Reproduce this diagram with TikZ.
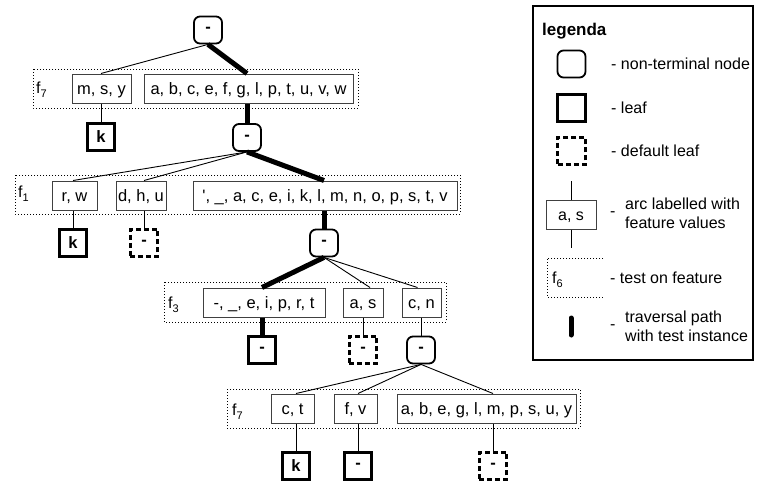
\documentclass[tikz,border=0pt]{standalone}
\usepackage{fontspec}
\setmainfont{Liberation Sans}
\newcommand{\fsub}[1]{f{\fontsize{11}{11}\selectfont\raisebox{-4pt}{#1}}}
\tikzset{
  txt/.style={font=\fontsize{16}{19}\selectfont, inner sep=0pt},
  inner/.style={draw, rounded corners=6pt, line width=1.8pt, minimum width=28pt,
    minimum height=27pt, inner sep=0pt, font=\fontsize{16.5}{19}\selectfont\bfseries},
  leaf/.style={draw, line width=2.8pt, minimum size=27.5pt, inner sep=0pt,
    font=\fontsize{16.5}{19}\selectfont\bfseries},
  dleaf/.style={leaf, dash pattern=on 5pt off 3pt},
  vals/.style={draw=black!75, line width=1pt, minimum height=29pt, inner sep=0pt,
    text height=12pt, text depth=0pt, font=\fontsize{16.5}{19}\selectfont},
  test/.style={draw, dotted, line width=1pt},
  arc/.style={line width=0.9pt},
  trail/.style={line width=5pt},
}
\begin{document}
\begin{tikzpicture}[x=1pt, y=-1pt]
\useasboundingbox (0,0) rectangle (757,483);

% ---- level 1: test on f7
\draw[test] (33,69) rectangle (358,108);
\node[txt, anchor=west] (t1) at (36,90) {\fsub{7}};
\node[inner] (root) at (208,30) {-};
\node[vals, minimum width=59pt] (msy) at (101.5,88.5) {m, s, y};
\node[vals, minimum width=209pt] (v1) at (248.5,88.5) {a, b, c, e, f, g, l, p, t, u, v, w};
\node[leaf] (k1) at (101,137) {k};
\node[inner] (n2) at (247,137.5) {-};
\draw[arc] (root.south) -- (k1 |- msy.north);
\draw[arc] (msy.south -| k1) -- (k1.north);
\draw[trail] (root.south) -- (n2 |- v1.north);
\draw[trail] (v1.south -| n2) -- (n2.north);

% ---- level 2: test on f1
\draw[test] (15,175) rectangle (460,214);
\node[txt, anchor=west] (t2) at (18,194) {\fsub{1}};
\node[vals, minimum width=45pt] (rw) at (74.5,195.5) {r, w};
\node[vals, minimum width=50pt] (dhu) at (141,195.5) {d, h, u};
\node[vals, minimum width=264pt] (v2) at (325,195.5) {\textquotesingle, \_, a, c, e, i, k, l, m, n, o, p, s, t, v};
\node[leaf] (k2) at (73,243) {k};
\node[dleaf] (d2) at (144,243) {-};
\node[inner] (n3) at (324,243) {-};
\draw[arc] (n2.south) -- (k2 |- rw.north);
\draw[arc] (rw.south -| k2) -- (k2.north);
\draw[arc] (n2.south) -- (d2 |- dhu.north);
\draw[arc] (dhu.south -| d2) -- (d2.north);
\draw[trail] (n2.south) -- (n3 |- v2.north);
\draw[trail] (v2.south -| n3) -- (n3.north);

% ---- level 3: test on f3
\draw[test] (164,282) rectangle (446,322);
\node[txt, anchor=west] (t3) at (168,305) {\fsub{3}};
\node[vals, minimum width=122pt] (v3) at (264,302.5) {-, \_, e, i, p, r, t\hspace{8pt}};
\node[vals, minimum width=40pt] (as) at (363,302.5) {a, s};
\node[vals, minimum width=39pt] (cn) at (421.5,302.5) {c, n};
\node[leaf] (l3) at (262,350) {-};
\node[dleaf] (d3) at (363,350) {-};
\node[inner] (n4) at (421,350) {-};
\draw[trail] (n3.south) -- (l3 |- v3.north);
\draw[trail] (v3.south -| l3) -- (l3.north);
\draw[arc] (n3.south) -- ([xshift=7pt]as.north);
\draw[arc] (as.south -| d3) -- (d3.north);
\draw[arc] (n3.south) -- ([xshift=-4pt]cn.north);
\draw[arc] (cn.south -| n4) -- (n4.north);

% ---- level 4: test on f7
\draw[test] (227,389) rectangle (580,428);
\node[txt, anchor=west] (t4) at (232,412) {\fsub{7}};
\node[vals, minimum width=43pt] (ct) at (292.5,408.5) {c, t};
\node[vals, minimum width=43pt] (fv) at (355.5,408.5) {f, v};
\node[vals, minimum width=179pt] (v4) at (486.5,408.5) {a, b, e, g, l, m, p, s, u, y};
\node[leaf] (k4) at (296,466) {k};
\node[leaf] (l4) at (358,466) {-};
\node[dleaf] (d4) at (493,466) {-};
\draw[arc] (n4.south) -- (k4 |- ct.north);
\draw[arc] (ct.south -| k4) -- (k4.north);
\draw[arc] (n4.south) -- (l4 |- fv.north);
\draw[arc] (fv.south -| l4) -- (l4.north);
\draw[arc] (n4.south) -- (d4 |- v4.north);
\draw[arc] (v4.south -| d4) -- (d4.north);

% ---- legend
\draw[line width=1.2pt] (533,6) rectangle (753,360);
\node[txt, anchor=west, font=\fontsize{17}{19}\selectfont\bfseries] (lgt) at (542,31) {legenda};
\node[inner] (lgi) at (571.5,64) {};
\node[txt, anchor=west] (lgit) at (611,64) {- non-terminal node};
\node[leaf] (lgl) at (571.5,108) {};
\node[txt, anchor=west] (lglt) at (611,108) {- leaf};
\node[dleaf] (lgd) at (571.5,151) {};
\node[txt, anchor=west] (lgdt) at (611,151) {- default leaf};
\node[vals, minimum width=50pt, font=\fontsize{16}{19}\selectfont] (lgv) at (571,214.5) {a, s};
\coordinate (lgva) at (571,181);
\coordinate (lgvb) at (571,248);
\draw[arc] (lgva) -- (lgv.north);
\draw[arc] (lgv.south) -- (lgvb);
\node[txt, anchor=west] (lgvd) at (610,214) {-};
\node[txt, anchor=west, align=left] (lgvt) at (625,213) {arc labelled with\\feature values};
\draw[test] (603,258) -- (547,258) -- (547,297) -- (603,297);
\node[txt, anchor=west] (lgf) at (552,280) {\fsub{6}};
\node[txt, anchor=west] (lgft) at (610,278) {- test on feature};
\coordinate (lgpa) at (571,318);
\coordinate (lgpb) at (571,335);
\draw[trail, line cap=round] (lgpa) -- (lgpb);
\node[txt, anchor=west] (lgpd) at (610,327) {-};
\node[txt, anchor=west, align=left] (lgpt) at (625,326) {traversal path\\with test instance};
\end{tikzpicture}
\end{document}
